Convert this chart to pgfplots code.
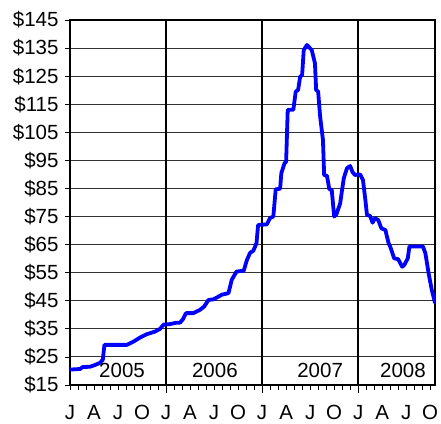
\documentclass[border=0pt]{standalone}
\usepackage{fontspec}
\setmainfont{Liberation Sans}
\usepackage{pgfplots}
\pgfplotsset{compat=1.18}
\begin{document}
\begin{tikzpicture}
\begin{axis}[name=ax, scale only axis, width=365pt, height=365pt,
  xmin=0, xmax=45.6, ymin=15, ymax=145,
  ytick={15,25,...,145},
  yticklabels={\$15,\$25,\$35,\$45,\$55,\$65,\$75,\$85,\$95,\$105,\$115,\$125,\$135,\$145},
  xtick={0,3,...,45},
  xticklabels={J,A,J,O,J,A,J,O,J,A,J,O,J,A,J,O},
  minor x tick num=2,
  tick align=outside, tick pos=left,
  major tick length=5pt, minor tick length=5pt,
  every tick/.style={black, line width=0.8pt},
  ymajorgrids,
  major grid style={black!80, line width=0.9pt},
  axis line style={black, line width=1.2pt},
  extra x ticks={12,24,36},
  extra x tick labels={},
  extra x tick style={grid=major, major grid style={black, line width=1.4pt}, major tick length=8pt},
  tick label style={font=\fontsize{20.5}{24}\selectfont},
  xticklabel style={yshift=-12pt},
  yticklabel style={xshift=-3pt},
  clip=true,
]
\addplot[blue, line width=3.8pt, line join=round, line cap=round] coordinates {
(0,20.5) (1.25,20.7) (1.6,21.4) (2.5,21.5) (3.1,22.1) (3.75,22.9) (4.1,24.0) (4.3,29.3)
(7.1,29.3) (7.9,30.4) (8.75,31.9) (9.6,33.1) (10.6,34.0) (11.25,35.0) (11.7,36.5)
(12.5,36.7) (13.3,37.2) (13.75,37.2) (14.1,38.4) (14.5,40.6) (15.4,40.6) (16.2,41.7)
(16.75,42.9) (17.3,45.3) (17.9,45.5) (18.5,46.4) (19.0,47.2) (19.8,47.7) (20.2,52.4)
(20.8,55.4) (21.7,55.7) (22.1,59.5) (22.5,62.1) (22.9,62.8) (23.3,65.5) (23.5,72.0)
(24.6,72.2) (25.0,74.5) (25.4,75.0) (25.7,84.7) (26.25,84.9) (26.4,90.4) (26.8,94)
(27.0,94.5) (27.2,113) (27.9,113) (28.2,119.5) (28.5,120.1) (28.75,124.8) (29.0,125.4)
(29.2,134.3) (29.6,136.1) (30.2,134.3) (30.6,129.6) (30.75,120.1) (31.0,119.5)
(31.25,110.6) (31.6,102.3) (31.75,89.8) (32.1,89.5) (32.4,84.7) (32.7,84.5) (33.0,75.0)
(33.3,75.9) (33.75,79.7) (34.2,88.6) (34.6,92.2) (35.0,93.0) (35.3,90.8) (35.6,89.8)
(36.25,90.0) (36.6,88) (36.9,80.9) (37.1,75.6) (37.5,75.2) (37.8,72.8) (38.1,74.4)
(38.5,73.8) (38.9,70.8) (39.4,70.2) (39.8,65.5) (40.0,64.3) (40.5,60.1) (41.0,59.8)
(41.5,57.1) (41.75,57.7) (42.2,60.1) (42.4,64.3) (44.1,64.3) (44.4,61.9) (44.8,54.8)
(45.2,48.8) (45.6,44.3)
};
\node[font=\fontsize{20.5}{24}\selectfont] at (axis cs:6.5,20.2) {2005};
\node[font=\fontsize{20.5}{24}\selectfont] at (axis cs:18.1,20.2) {2006};
\node[font=\fontsize{20.5}{24}\selectfont] at (axis cs:31.25,20.2) {2007};
\node[font=\fontsize{20.5}{24}\selectfont] at (axis cs:41.6,20.2) {2008};
\end{axis}
\pgfresetboundingbox
\path (ax.south west) ++(-70pt,-38pt) rectangle ++(441pt,423pt);
\end{tikzpicture}
\end{document}
